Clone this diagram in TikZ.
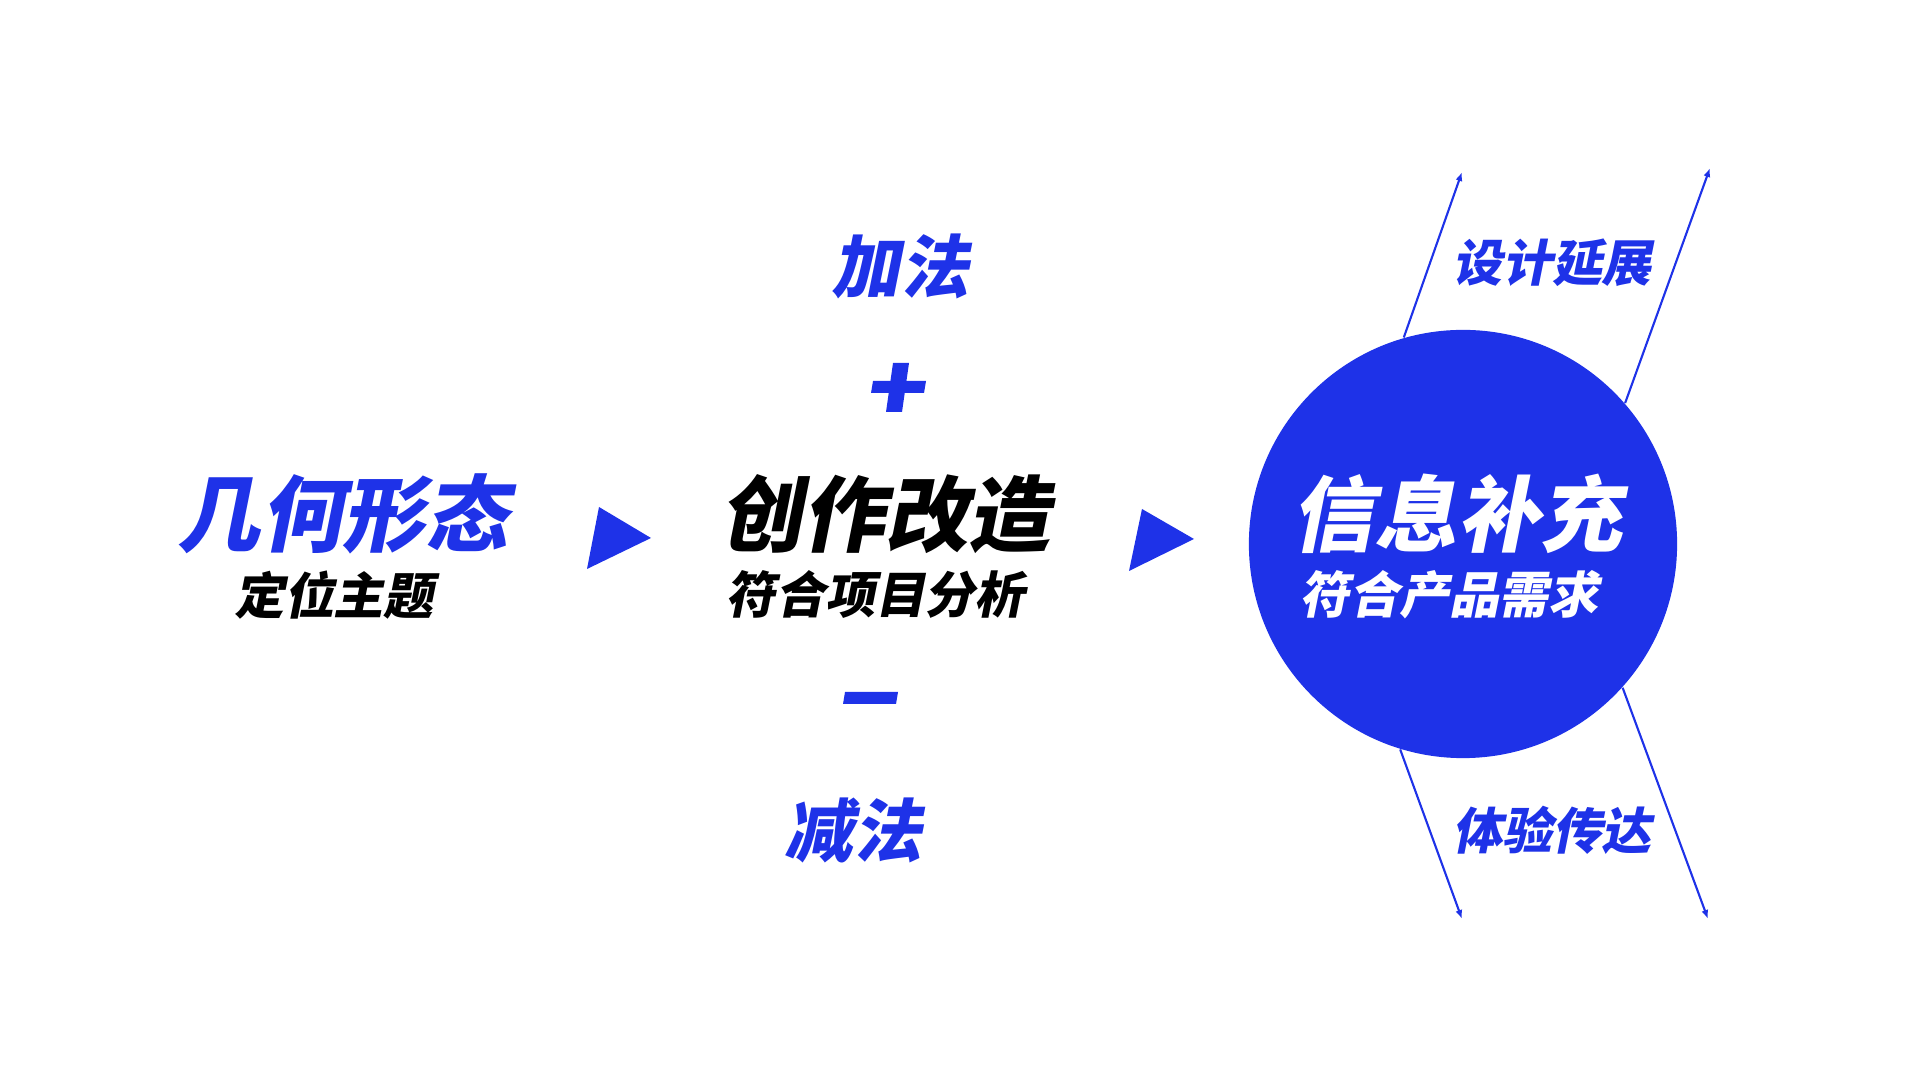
\documentclass[tikz,border=0pt]{standalone}
\usepackage{fontspec}
\newfontfamily\cjk[FakeSlant=0.2]{Noto Sans CJK SC}
\usetikzlibrary{arrows.meta}
\definecolor{vblue}{RGB}{30,50,232}
\tikzset{
  big/.style={font=\cjk\bfseries\fontsize{23.5pt}{24pt}\selectfont, inner sep=0pt},
  sub/.style={font=\cjk\bfseries\fontsize{14.2pt}{15pt}\selectfont, inner sep=0pt},
  mid/.style={font=\cjk\bfseries\fontsize{19.5pt}{20pt}\selectfont, inner sep=0pt, text=vblue},
  flow/.style={vblue, line width=0.6pt, -{Latex[length=0.9mm,width=0.7mm]}}
}

\begin{document}
\begin{tikzpicture}[x=0.01cm,y=-0.01cm]
  \useasboundingbox (0,0) rectangle (1920,1080);
  % left: shape
  \node[big, text=vblue] (geo) at (343,514) {几何形态};
  \node[sub] (geosub) at (334,595) {定位主题};
  \fill[vblue] (599,507) -- (651,538) -- (587,569) -- cycle;
  % middle: rework
  \node[big] (make) at (885,514) {创作改造};
  \node[sub] (makesub) at (875,595) {符合项目分析};
  \node[mid] (add) at (900,266) {加法};
  \node[mid] (cut) at (853,830) {减法};
  \fill[vblue] (893,363) -- (909,363) -- (902,412) -- (886,412) -- cycle;
  \fill[vblue] (873,381) -- (926,381) -- (924,393) -- (871,393) -- cycle;
  \fill[vblue] (845,692) -- (898,692) -- (896,704) -- (843,704) -- cycle;
  \fill[vblue] (1142,509) -- (1194,539) -- (1129,571) -- cycle;
  % right: info circle
  \node[circle, fill=vblue, minimum size=4.28cm, inner sep=0pt] (info) at (1463,544) {};
  \node[big, text=white] (infotitle) at (1457,514) {信息补充};
  \node[sub, text=white] (infosub) at (1449,595) {符合产品需求};
  \coordinate (ultip) at (1462,172);
  \coordinate (urtip) at (1710,168);
  \coordinate (lltip) at (1462,919);
  \coordinate (lrtip) at (1708,919);
  \draw[flow] (info.106.5) -- (ultip);
  \draw[flow] (info.41) -- (urtip);
  \draw[flow] (info.253.5) -- (lltip);
  \draw[flow] (info.318.6) -- (lrtip);
  \node[sub, text=vblue] (extend) at (1552,263) {设计延展};
  \node[sub, text=vblue] (convey) at (1552,830) {体验传达};
\end{tikzpicture}
\end{document}
